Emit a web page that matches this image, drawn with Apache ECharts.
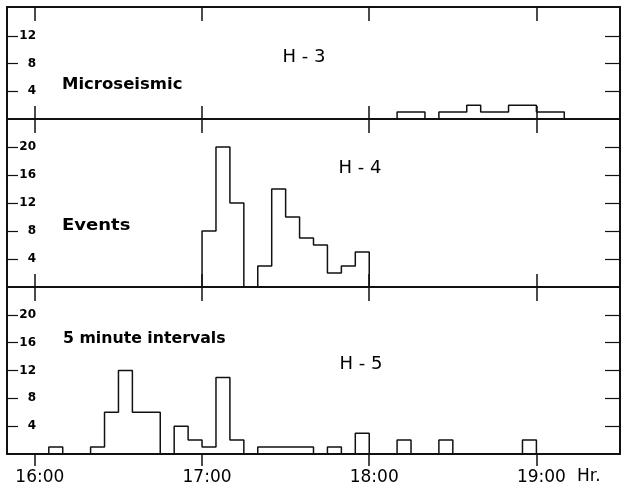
<!DOCTYPE html>
<html>
<head>
<meta charset="utf-8">
<script src="https://cdn.jsdelivr.net/npm/echarts@6/dist/echarts.min.js"></script>
<style>
  html, body { margin: 0; background: #fff; }
  #chart { width: 623px; height: 489px; }
</style>
</head>
<body>
<div id="chart"></div>
<script>
// hour ticks on the time axis (minutes after 16:00)
const hourLabels = ['16:00', '17:00', '18:00', '19:00'];
const hourMinutes = [0, 60, 120, 180];

// 5 minute bins: start time of each bin and event count in it
const h3Times = ['18:05', '18:10', '18:15', '18:20', '18:25', '18:30', '18:35', '18:40', '18:45', '18:50', '18:55', '19:00', '19:05', '19:10'];
const h3Counts = [0, 1, 1, 0, 1, 1, 2, 1, 1, 2, 2, 1, 1, 0];

const h4Times = ['16:55', '17:00', '17:05', '17:10', '17:15', '17:20', '17:25', '17:30', '17:35', '17:40', '17:45', '17:50', '17:55', '18:00'];
const h4Counts = [0, 8, 20, 12, 0, 3, 14, 10, 7, 6, 2, 3, 5, 0];

const h5Times = ['16:00', '16:05', '16:10', '16:15', '16:20', '16:25', '16:30', '16:35', '16:40', '16:45',
  '16:50', '16:55', '17:00', '17:05', '17:10', '17:15', '17:20', '17:25', '17:30', '17:35',
  '17:40', '17:45', '17:50', '17:55', '18:00', '18:05', '18:10', '18:15', '18:20', '18:25',
  '18:30', '18:35', '18:40', '18:45', '18:50', '18:55', '19:00'];
const h5Counts = [0, 1, 0, 0, 1, 6, 12, 6, 6, 0,
  4, 2, 1, 11, 2, 0, 1, 1, 1, 1,
  0, 1, 0, 3, 0, 0, 2, 0, 0, 2,
  0, 0, 0, 0, 0, 2, 0];

// y tick labels of each panel
const h3Ticks = [4, 8, 12];
const h4Ticks = [4, 8, 12, 16, 20];
const h5Ticks = [4, 8, 12, 16, 20];

function toMinutes(t) {
  const [h, m] = t.split(':').map(Number);
  return (h - 16) * 60 + m;
}

function toPoints(times, counts) {
  return times.map((t, i) => [toMinutes(t), counts[i]]);
}

const font = 'DejaVu Sans';
const ink = '#111';

const panels = [
  { top: 7, height: 112, max: 16.2, ticks: h3Ticks, data: toPoints(h3Times, h3Counts) },
  { top: 119, height: 168, max: 24, ticks: h4Ticks, data: toPoints(h4Times, h4Counts) },
  { top: 287, height: 167, max: 24, ticks: h5Ticks, data: toPoints(h5Times, h5Counts) }
];

const grid = [];
const xAxis = [];
const yAxis = [];
const series = [];

panels.forEach((p, i) => {
  const last = i === panels.length - 1;
  grid.push({ left: 7, right: 3, top: p.top, height: p.height });

  // bottom time axis
  xAxis.push({
    type: 'value', gridIndex: i, position: 'bottom', min: -10, max: 210,
    axisLine: { onZero: false, lineStyle: { color: ink, width: 2 } },
    axisTick: { customValues: hourMinutes, inside: !last, length: last ? 12 : 13, lineStyle: { color: ink, width: 1.5 } },
    axisLabel: {
      show: last, customValues: hourMinutes, margin: 15, padding: [0, 0, 0, 10],
      color: '#000', fontSize: 17, fontFamily: font,
      formatter: (v) => hourLabels[hourMinutes.indexOf(v)]
    },
    splitLine: { show: false }
  });
  // top time axis (ticks only)
  xAxis.push({
    type: 'value', gridIndex: i, position: 'top', min: -10, max: 210,
    axisLine: { onZero: false, lineStyle: { color: ink, width: 2 } },
    axisTick: { customValues: hourMinutes, inside: true, length: 14, lineStyle: { color: ink, width: 1.5 } },
    axisLabel: { show: false },
    splitLine: { show: false }
  });

  yAxis.push({
    type: 'value', gridIndex: i, position: 'left', min: 0, max: p.max,
    axisLine: { show: true, onZero: false, lineStyle: { color: ink, width: 2 } },
    axisTick: { show: true, customValues: p.ticks, inside: true, length: 11, lineStyle: { color: ink, width: 1.2 } },
    axisLabel: {
      customValues: p.ticks, inside: true, align: 'right', margin: 29,
      color: '#000', fontSize: 12, fontWeight: 'bold', fontFamily: font
    },
    splitLine: { show: false }
  });
  yAxis.push({
    type: 'value', gridIndex: i, position: 'right', min: 0, max: p.max,
    axisLine: { show: true, onZero: false, lineStyle: { color: ink, width: 2 } },
    axisTick: { show: true, customValues: p.ticks, inside: true, length: 15, lineStyle: { color: ink, width: 1.2 } },
    axisLabel: { show: false },
    splitLine: { show: false }
  });

  series.push({
    type: 'line', step: 'end',
    xAxisIndex: 2 * i, yAxisIndex: 2 * i,
    data: p.data,
    showSymbol: false,
    lineStyle: { color: ink, width: 1.5 }
  });
});

function label(text, x, y, size, bold, stretch, align) {
  return {
    type: 'text', x: x, y: y, scaleX: stretch || 1,
    style: {
      text: text, fill: '#000', fontSize: size, fontFamily: font,
      fontWeight: bold ? 'bold' : 'normal',
      align: align || 'left', verticalAlign: 'middle'
    }
  };
}

const chart = echarts.init(document.getElementById('chart'), null, { renderer: 'canvas' });
chart.setOption({
  animation: false,
  backgroundColor: '#fff',
  grid: grid,
  xAxis: xAxis,
  yAxis: yAxis,
  series: series,
  graphic: [
    label('H - 3', 304, 57, 18, false, 1, 'center'),
    label('H - 4', 360, 168, 18, false, 1, 'center'),
    label('H - 5', 361, 364, 18, false, 1, 'center'),
    label('Microseismic', 62, 85, 15, true, 1.1),
    label('Events', 62, 226, 15, true, 1.2),
    label('5 minute intervals', 63, 339, 15, true, 1.05),
    label('Hr.', 577, 477, 17, false, 1)
  ]
});
</script>
</body>
</html>
